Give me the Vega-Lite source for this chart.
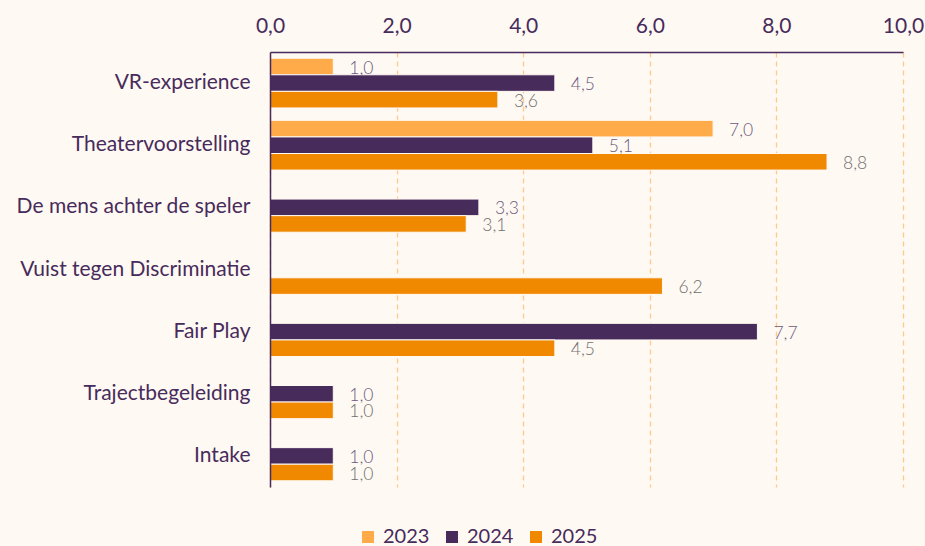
{
  "$schema": "https://vega.github.io/schema/vega-lite/v6.json",
  "width": 633,
  "height": 435,
  "autosize": {"type": "none"},
  "padding": {"left": 270, "top": 52, "right": 22, "bottom": 59},
  "background": "#fff9f3",
  "config": {
    "view": {"stroke": null},
    "font": "Lato",
    "locale": {"number": {"decimal": ",", "thousands": ".", "grouping": [3], "currency": ["€", ""]}}
  },
  "data": {
    "values": [
      {"cat": "VR-experience", "year": "2023", "value": 1.0},
      {"cat": "VR-experience", "year": "2024", "value": 4.5},
      {"cat": "VR-experience", "year": "2025", "value": 3.6},
      {"cat": "Theatervoorstelling", "year": "2023", "value": 7.0},
      {"cat": "Theatervoorstelling", "year": "2024", "value": 5.1},
      {"cat": "Theatervoorstelling", "year": "2025", "value": 8.8},
      {"cat": "De mens achter de speler", "year": "2024", "value": 3.3},
      {"cat": "De mens achter de speler", "year": "2025", "value": 3.1},
      {"cat": "Vuist tegen Discriminatie", "year": "2025", "value": 6.2},
      {"cat": "Fair Play", "year": "2024", "value": 7.7},
      {"cat": "Fair Play", "year": "2025", "value": 4.5},
      {"cat": "Trajectbegeleiding", "year": "2024", "value": 1.0},
      {"cat": "Trajectbegeleiding", "year": "2025", "value": 1.0},
      {"cat": "Intake", "year": "2024", "value": 1.0},
      {"cat": "Intake", "year": "2025", "value": 1.0}
    ]
  },
  "encoding": {
    "y": {
      "field": "cat",
      "type": "nominal",
      "sort": ["VR-experience", "Theatervoorstelling", "De mens achter de speler", "Vuist tegen Discriminatie", "Fair Play", "Trajectbegeleiding", "Intake"],
      "scale": {"paddingInner": 0.2, "paddingOuter": 0.1},
      "axis": {
        "title": null,
        "domainColor": "#472b5b",
        "domainWidth": 1.5,
        "ticks": false,
        "labelPadding": 20,
        "labelFontSize": 21,
        "labelLimit": 0,
        "labelColor": "#472b5b",
        "labelFont": "Lato",
        "zindex": 1
      }
    },
    "yOffset": {
      "field": "year",
      "type": "nominal",
      "scale": {"domain": ["2023", "2024", "2025"], "paddingInner": 0, "paddingOuter": 0}
    },
    "x": {
      "field": "value",
      "type": "quantitative",
      "scale": {"domain": [0, 10], "nice": false},
      "axis": {
        "orient": "top",
        "title": null,
        "values": [0, 2, 4, 6, 8, 10],
        "format": ".1f",
        "labelFlush": false,
        "domainColor": "#472b5b",
        "domainWidth": 1.5,
        "ticks": false,
        "labelPadding": 16,
        "labelFontSize": 21,
        "labelColor": "#472b5b",
        "labelFont": "Lato",
        "grid": true,
        "gridColor": "#ffc98c",
        "gridDash": [5, 4],
        "gridWidth": 1.3
      }
    }
  },
  "layer": [
    {
      "mark": {"type": "bar", "stroke": "#fff9f3", "strokeWidth": 1},
      "encoding": {
        "color": {
          "field": "year",
          "type": "nominal",
          "scale": {"domain": ["2023", "2024", "2025"], "range": ["#ffab4a", "#472b5b", "#f08800"]},
          "legend": {
            "title": null,
            "orient": "none",
            "direction": "horizontal",
            "legendX": 88,
            "legendY": 475,
            "symbolType": "square",
            "symbolSize": 144,
            "symbolStrokeWidth": 0,
            "labelFontSize": 20,
            "labelColor": "#472b5b",
            "labelFont": "Lato",
            "labelOffset": 5,
            "columnPadding": 12
          }
        }
      }
    },
    {
      "mark": {"type": "text", "align": "left", "baseline": "middle", "dx": 16, "dy": 2, "fontSize": 17.5, "fontWeight": 300, "font": "Lato"},
      "encoding": {
        "text": {"field": "value", "type": "quantitative", "format": ".1f"},
        "color": {
          "field": "year",
          "type": "nominal",
          "scale": {"domain": ["2023", "2024", "2025"], "range": ["#6b5a7e", "#6b5a7e", "#707070"]},
          "legend": null
        }
      }
    }
  ],
  "resolve": {"scale": {"color": "independent"}}
}
